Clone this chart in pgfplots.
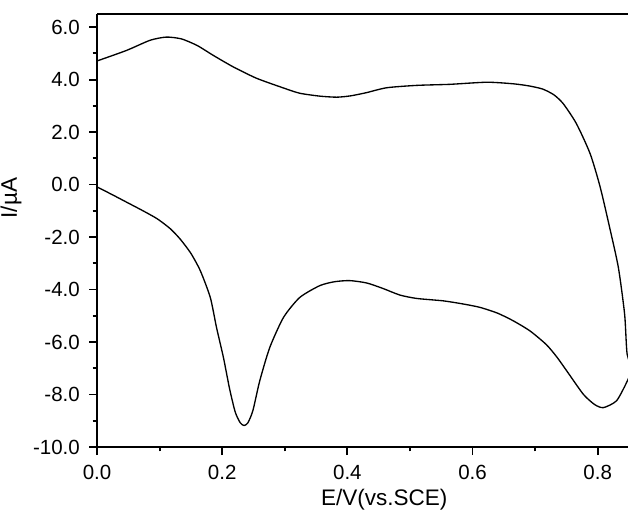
\documentclass[border=0pt]{standalone}
\usepackage{fontspec}
\setmainfont{Liberation Sans}
\usepackage{pgfplots}
\pgfplotsset{compat=1.18}

% cyclic voltammogram (E in V, I in uA)
\pgfplotstableread{
E      I
0.000  -0.09
0.024  -0.38
0.048  -0.68
0.072  -0.98
0.096  -1.30
0.117  -1.68
0.133  -2.08
0.150  -2.62
0.165  -3.28
0.181  -4.30
0.191  -5.45
0.202  -6.59
0.212  -7.80
0.221  -8.68
0.229  -9.08
0.235  -9.18
0.241  -9.08
0.249  -8.62
0.260  -7.48
0.276  -6.21
0.298  -5.06
0.324  -4.30
0.356  -3.85
0.380  -3.70
0.404  -3.66
0.431  -3.75
0.457  -3.96
0.484  -4.21
0.511  -4.34
0.553  -4.43
0.585  -4.55
0.612  -4.68
0.640  -4.90
0.665  -5.19
0.692  -5.58
0.718  -6.10
0.735  -6.58
0.752  -7.15
0.777  -7.99
0.795  -8.38
0.809  -8.50
0.830  -8.24
0.846  -7.55
0.856  -7.00
}\cathodic

\pgfplotstableread{
E      I
0.856  -7.00
0.847  -6.46
0.843  -4.94
0.833  -3.16
0.819  -1.63
0.804  -0.10
0.788   1.17
0.766   2.32
0.745   3.08
0.730   3.42
0.712   3.64
0.690   3.76
0.665   3.84
0.623   3.90
0.564   3.82
0.511   3.78
0.463   3.69
0.430   3.50
0.405   3.38
0.383   3.33
0.356   3.37
0.324   3.48
0.298   3.68
0.255   4.05
0.218   4.48
0.186   4.92
0.160   5.30
0.135   5.55
0.111   5.62
0.085   5.50
0.047   5.11
0.000   4.71
}\anodic

\begin{document}
\begin{tikzpicture}
\begin{axis}[
  scale only axis,
  width=319.2pt,
  height=259.8pt,
  xmin=0, xmax=0.85,
  ymin=-10, ymax=6.5,
  axis x line*=box,
  axis y line*=left,
  axis line style={line width=1.1pt},
  xtick={0,0.2,0.4,0.6,0.8},
  ytick={-10,-8,-6,-4,-2,0,2,4,6},
  minor x tick num=1,
  minor y tick num=1,
  xtick pos=bottom,
  ytick pos=left,
  tick align=outside,
  major tick length=4.8pt,
  minor tick length=2.6pt,
  every tick/.style={black, line width=1.1pt},
  tick label style={font=\fontsize{12.3}{14}\selectfont},
  xticklabel style={yshift=-2.5pt},
  yticklabel style={xshift=-2pt},
  /pgf/number format/assume math mode=true,
  /pgf/number format/.cd, fixed, fixed zerofill, precision=1,
  /pgfplots/.cd,
  xlabel={E/V(vs.SCE)},
  ylabel={I/µA},
  label style={font=\fontsize{13.5}{16}\selectfont},
  xlabel style={at={(ticklabel cs:0.54)}, anchor=north, yshift=1pt},
  ylabel style={at={(ticklabel cs:0.575)}, anchor=south},
  clip=true,
]
\addplot[black, line width=0.8pt, smooth, tension=0.4] table[x=E, y=I] {\cathodic};
\addplot[black, line width=0.8pt, smooth, tension=0.4] table[x=E, y=I] {\anodic};
\end{axis}
% page margins matching the reference framing
\pgfresetboundingbox
\useasboundingbox (current axis.south west) ++(-58.2pt,-42pt) rectangle ([shift={(-0.6pt,8.4pt)}]current axis.north east);
\end{tikzpicture}
\end{document}
